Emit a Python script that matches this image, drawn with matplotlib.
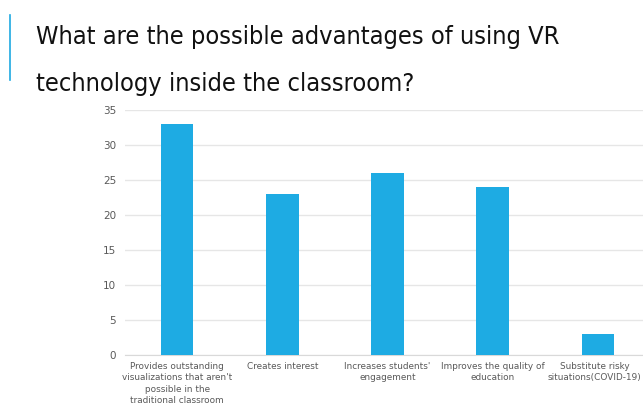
import matplotlib
matplotlib.use("Agg")
import matplotlib.pyplot as plt
from matplotlib import font_manager as fm

categories = [
    "Provides outstanding\nvisualizations that aren't\npossible in the\ntraditional classroom",
    "Creates interest",
    "Increases students'\nengagement",
    "Improves the quality of\neducation",
    "Substitute risky\nsituations(COVID-19)",
]
values = [33, 23, 26, 24, 3]
yticks = [0, 5, 10, 15, 20, 25, 30, 35]
title_lines = ["What are the possible advantages of using VR", "technology inside the classroom?"]

W, H = 643, 407
fig = plt.figure(figsize=(W / 100, H / 100), dpi=100)
fig.patch.set_facecolor("white")

# blue accent line
fig.add_artist(plt.Line2D([10 / W, 10 / W], [1 - 15 / H, 1 - 80 / H], color="#1ea9e1", lw=1.2))

title_font = fm.FontProperties(family="DejaVu Sans", stretch="condensed", size=20)
t1 = fig.text(36 / W, 1 - 44 / H, title_lines[0], fontproperties=title_font, color="#111111", va="baseline")
t2 = fig.text(36 / W, 1 - 91 / H, title_lines[1], fontproperties=title_font, color="#111111", va="baseline")

# scale title to reference width (first line about 524 px wide)
fig.canvas.draw()
r = fig.canvas.get_renderer()
w1 = t1.get_window_extent(r).width
size = 20 * 524 / w1
t1.set_fontsize(size)
t2.set_fontsize(size)

left, right = 124.5, 650.5
top, bottom = 110, 355
ax = fig.add_axes([left / W, 1 - bottom / H, (right - left) / W, (bottom - top) / H])
x = list(range(len(values)))
ax.bar(x, values, width=0.31, color="#1eabe3", zorder=3)
ax.set_xlim(-0.5, len(values) - 0.5)
ax.set_ylim(0, 35)
ax.set_yticks(yticks)
ax.set_yticklabels([str(t) for t in yticks], fontsize=7.5, color="#595959")
ax.set_xticks(x)
label_kw = dict(fontsize=6.4, color="#595959", linespacing=1.35)
ax.set_xticklabels(categories[:-1] + [""], va="top", **label_kw)
# last label nudged left a little so it stays inside the figure edge
ax.annotate(categories[-1], xy=(x[-1], 0), xycoords="data", xytext=(-2.5, -5),
            textcoords="offset points", ha="center", va="top", **label_kw)
ax.tick_params(length=0, pad=6)
ax.tick_params(axis="x", pad=5)
ax.grid(axis="y", color="#e6e6e6", lw=1, zorder=0)
for s in ["top", "right", "left"]:
    ax.spines[s].set_visible(False)
ax.spines["bottom"].set_color("#d9d9d9")
ax.set_facecolor("none")

fig.savefig("out.png", dpi=100)
